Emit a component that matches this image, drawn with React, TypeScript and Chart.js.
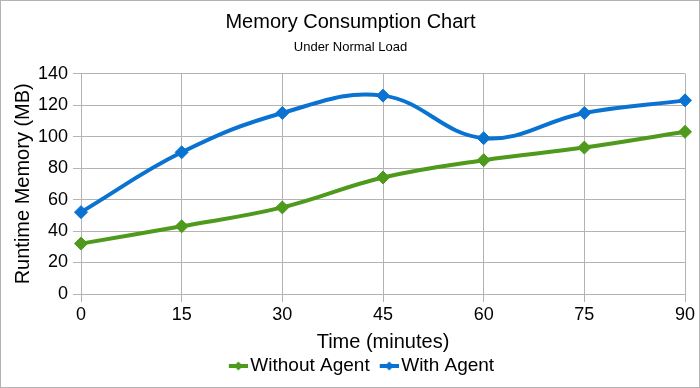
import React, { useEffect, useRef } from 'react';
import { Chart, registerables } from 'chart.js';

Chart.register(...registerables);

const categories = ['0', '15', '30', '45', '60', '75', '90'];
const withoutAgent = [32, 43, 55, 74, 85, 93, 103];
const withAgent = [52, 90, 115, 126, 99, 115, 123];
const yTicks = [0, 20, 40, 60, 80, 100, 120, 140];

const GREEN = '#4e9a1c';
const BLUE = '#0a73d1';
const GRID = '#b3b3b3';
const FONT = '"Liberation Sans", Arial, sans-serif';

function legendMarker(color: string): HTMLCanvasElement {
  const c = document.createElement('canvas');
  c.width = 26;
  c.height = 14;
  const ctx = c.getContext('2d')!;
  ctx.strokeStyle = color;
  ctx.lineWidth = 4;
  ctx.beginPath();
  ctx.moveTo(7, 7);
  ctx.lineTo(26, 7);
  ctx.stroke();
  ctx.fillStyle = color;
  const cx = 16.5, cy = 7, r = 4.5;
  ctx.beginPath();
  ctx.moveTo(cx, cy - r);
  ctx.lineTo(cx + r, cy);
  ctx.lineTo(cx, cy + r);
  ctx.lineTo(cx - r, cy);
  ctx.closePath();
  ctx.fill();
  return c;
}

const legendShift = {
  id: 'legendShift',
  afterLayout(chart: any) {
    if (chart.legend) {
      chart.legend.left += 11;
      chart.legend.right += 11;
    }
  },
};

export default function App() {
  const ref = useRef<HTMLCanvasElement>(null);

  useEffect(() => {
    document.body.style.margin = '0';
    const markers = [legendMarker(GREEN), legendMarker(BLUE)];
    const chart = new Chart(ref.current!, {
      type: 'line',
      data: {
        labels: categories,
        datasets: [
          {
            label: 'Without Agent',
            data: withoutAgent,
            borderColor: GREEN,
            backgroundColor: GREEN,
            borderWidth: 4,
            tension: 0.4,
            pointStyle: 'rectRot',
            pointRadius: 6.5,
            pointBorderWidth: 1,
            pointBackgroundColor: GREEN,
            pointBorderColor: GREEN,
          },
          {
            label: 'With Agent',
            data: withAgent,
            borderColor: BLUE,
            backgroundColor: BLUE,
            borderWidth: 4,
            tension: 0.4,
            pointStyle: 'rectRot',
            pointRadius: 6.5,
            pointBorderWidth: 1,
            pointBackgroundColor: BLUE,
            pointBorderColor: BLUE,
          },
        ],
      },
      options: {
        animation: false,
        responsive: false,
        maintainAspectRatio: false,
        layout: { padding: { left: 15, right: 14, top: 0, bottom: 1.5 } },
        font: { family: FONT },
        plugins: {
          title: {
            display: true,
            text: 'Memory Consumption Chart',
            color: '#000',
            font: { family: FONT, size: 20, weight: 'normal' },
            padding: { top: 9, bottom: 6 },
          },
          subtitle: {
            display: true,
            text: 'Under Normal Load',
            color: '#000',
            font: { family: FONT, size: 13, weight: 'normal' },
            padding: { top: 0, bottom: 18 },
          },
          legend: {
            display: true,
            position: 'bottom',
            labels: {
              color: '#000',
              font: { family: FONT, size: 19 },
              usePointStyle: true,
              pointStyleWidth: 12,
              padding: 10,
              generateLabels: (ch: any) =>
                ch.data.datasets.map((ds: any, i: number) => ({
                  text: ds.label,
                  pointStyle: markers[i],
                  fillStyle: ds.borderColor,
                  strokeStyle: ds.borderColor,
                  lineWidth: 0,
                  hidden: false,
                  datasetIndex: i,
                  fontColor: '#000',
                })),
            },
          },
          tooltip: { enabled: false },
        },
        scales: {
          x: {
            type: 'category',
            grid: { color: GRID, tickLength: 8, tickColor: GRID },
            border: { color: GRID },
            ticks: { color: '#000', font: { family: FONT, size: 18 }, padding: 2, maxRotation: 0 },
            title: {
              display: true,
              text: 'Time (minutes)',
              color: '#000',
              font: { family: FONT, size: 20 },
              padding: { top: 2.4, bottom: -7.5 },
            },
          },
          y: {
            min: 0,
            max: 140,
            afterBuildTicks: (s: any) => {
              s.ticks = yTicks.map((v) => ({ value: v }));
            },
            afterFit: (s: any) => {
              s.width = 65;
            },
            grid: { color: GRID, tickLength: 8, tickColor: GRID },
            border: { color: GRID },
            ticks: { color: '#000', font: { family: FONT, size: 18 }, padding: 5 },
            title: {
              display: true,
              text: 'Runtime Memory (MB)',
              color: '#000',
              font: { family: FONT, size: 20 },
              padding: { top: -5, bottom: 0 },
            },
          },
        },
      },
      plugins: [legendShift],
    });
    return () => chart.destroy();
  }, []);

  return (
    <div
      style={{
        position: 'absolute',
        left: 0,
        top: 0,
        width: 700,
        height: 388,
        boxSizing: 'border-box',
        border: '1px solid #b3b3b3',
        background: '#fff',
      }}
    >
      <canvas ref={ref} width={698} height={386} style={{ display: 'block', width: 698, height: 386 }} />
    </div>
  );
}
